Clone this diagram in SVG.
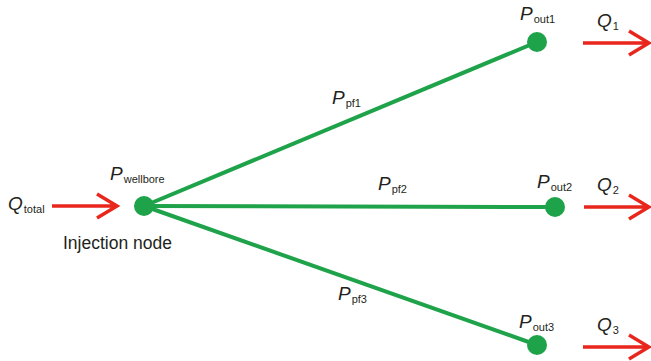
<svg xmlns="http://www.w3.org/2000/svg" width="651" height="361" viewBox="0 0 651 361">
<defs>
<style>
text{font-family:"Liberation Sans",Arial,sans-serif;fill:#231f20}
.v{font-style:italic;font-size:19px}
.s{font-size:11px;font-style:normal}
.lbl{font-size:17.5px}
.edge{stroke:#1fa34a;stroke-width:4;fill:none}
.node{fill:#1fa34a}
.flow{stroke:#e8261c;stroke-width:3.5;fill:none;stroke-linecap:butt}
</style>
</defs>
<rect width="651" height="361" fill="#fff"/>
<g id="connectors">
<line class="edge" x1="144" y1="206" x2="537" y2="42"/>
<line class="edge" x1="144" y1="206" x2="555" y2="207"/>
<line class="edge" x1="144" y1="206" x2="537" y2="345"/>
<path class="flow" d="M52 206H116M97 194L117 206L97 218"/>
<path class="flow" d="M583 43H647M629 31L649 43L629 55"/>
<path class="flow" d="M584 207H647M629 195L649 207L629 219"/>
<path class="flow" d="M583 347H647M629 335L649 347L629 359"/>
</g>
<g id="injection">
<circle class="node" cx="144" cy="206" r="10"/>
<text x="110" y="180" class="v">P<tspan class="s" dx="1" dy="3">wellbore</tspan></text>
<text x="63" y="249" class="lbl">Injection node</text>
<text x="8" y="210" class="v">Q<tspan class="s" dx="1" dy="3">total</tspan></text>
</g>
<g id="out1">
<circle class="node" cx="537" cy="42" r="10"/>
<text x="520" y="20" class="v">P<tspan class="s" dx="1" dy="3">out1</tspan></text>
<text x="597" y="27" class="v">Q<tspan class="s" dx="1" dy="3">1</tspan></text>
</g>
<g id="out2">
<circle class="node" cx="555" cy="207" r="10"/>
<text x="537" y="188" class="v">P<tspan class="s" dx="1" dy="3">out2</tspan></text>
<text x="597" y="191" class="v">Q<tspan class="s" dx="1" dy="3">2</tspan></text>
</g>
<g id="out3">
<circle class="node" cx="537" cy="345" r="10"/>
<text x="519" y="328" class="v">P<tspan class="s" dx="1" dy="3">out3</tspan></text>
<text x="597" y="331" class="v">Q<tspan class="s" dx="1" dy="3">3</tspan></text>
</g>
<g id="edge-labels">
<text x="332" y="104" class="v">P<tspan class="s" dx="1" dy="3">pf1</tspan></text>
<text x="378" y="190" class="v">P<tspan class="s" dx="1" dy="3">pf2</tspan></text>
<text x="338" y="300" class="v">P<tspan class="s" dx="1" dy="3">pf3</tspan></text>
</g>
</svg>
